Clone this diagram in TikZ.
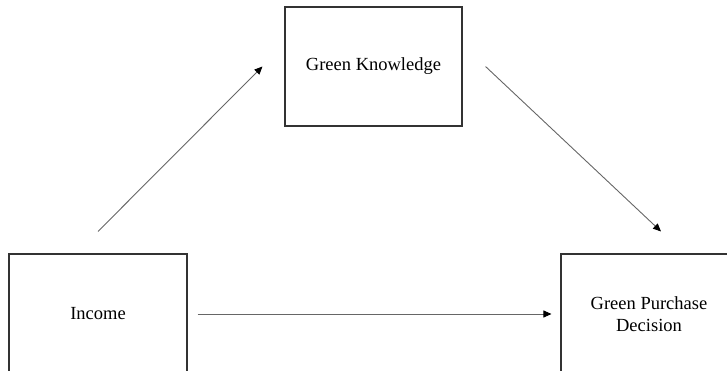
\documentclass[tikz,border=0pt]{standalone}
\usepackage{fontspec}
\setmainfont{Liberation Serif}
\usetikzlibrary{arrows.meta}

\begin{document}
\begin{tikzpicture}[x=1pt, y=-1pt,
    box/.style={draw=black!80, line width=1.1pt, text=black, align=center,
      font=\fontsize{18.5}{22}\selectfont, inner sep=0pt},
    arrow/.style={draw=black!60, line width=0.9pt,
      -{Triangle[length=8pt, width=7pt, black]}}]
      % Picture frame, the boxes run past its lower and right edges
      \clip (0,0) rectangle (727,370);

      % Define the three boxes
      \node[box, minimum width=177pt, minimum height=119pt] (gk) at (373.5,66.5) {Green Knowledge};
      \node[box, minimum width=178pt, minimum height=120pt] (inc) at (98,314) {Income};
      \node[box, minimum width=176pt, minimum height=120pt] (gpd) at (649,314) {Green Purchase\\Decision};

      % Free ends of the connectors
      \coordinate (incTop) at ([yshift=22pt]inc.north);
      \coordinate (gkIn) at ([xshift=-22pt]gk.west);
      \coordinate (gkOut) at ([xshift=23pt]gk.east);
      \coordinate (gpdTop) at ([xshift=12pt, yshift=22pt]gpd.north);
      \coordinate (incOut) at ([xshift=10pt]inc.east);
      \coordinate (gpdIn) at ([xshift=-9pt]gpd.west);

      % Draw the paths
      \draw[arrow] (incTop) -- (gkIn);
      \draw[arrow] (gkOut) -- (gpdTop);
      \draw[arrow] (incOut) -- (gpdIn);
    \end{tikzpicture}
\end{document}
